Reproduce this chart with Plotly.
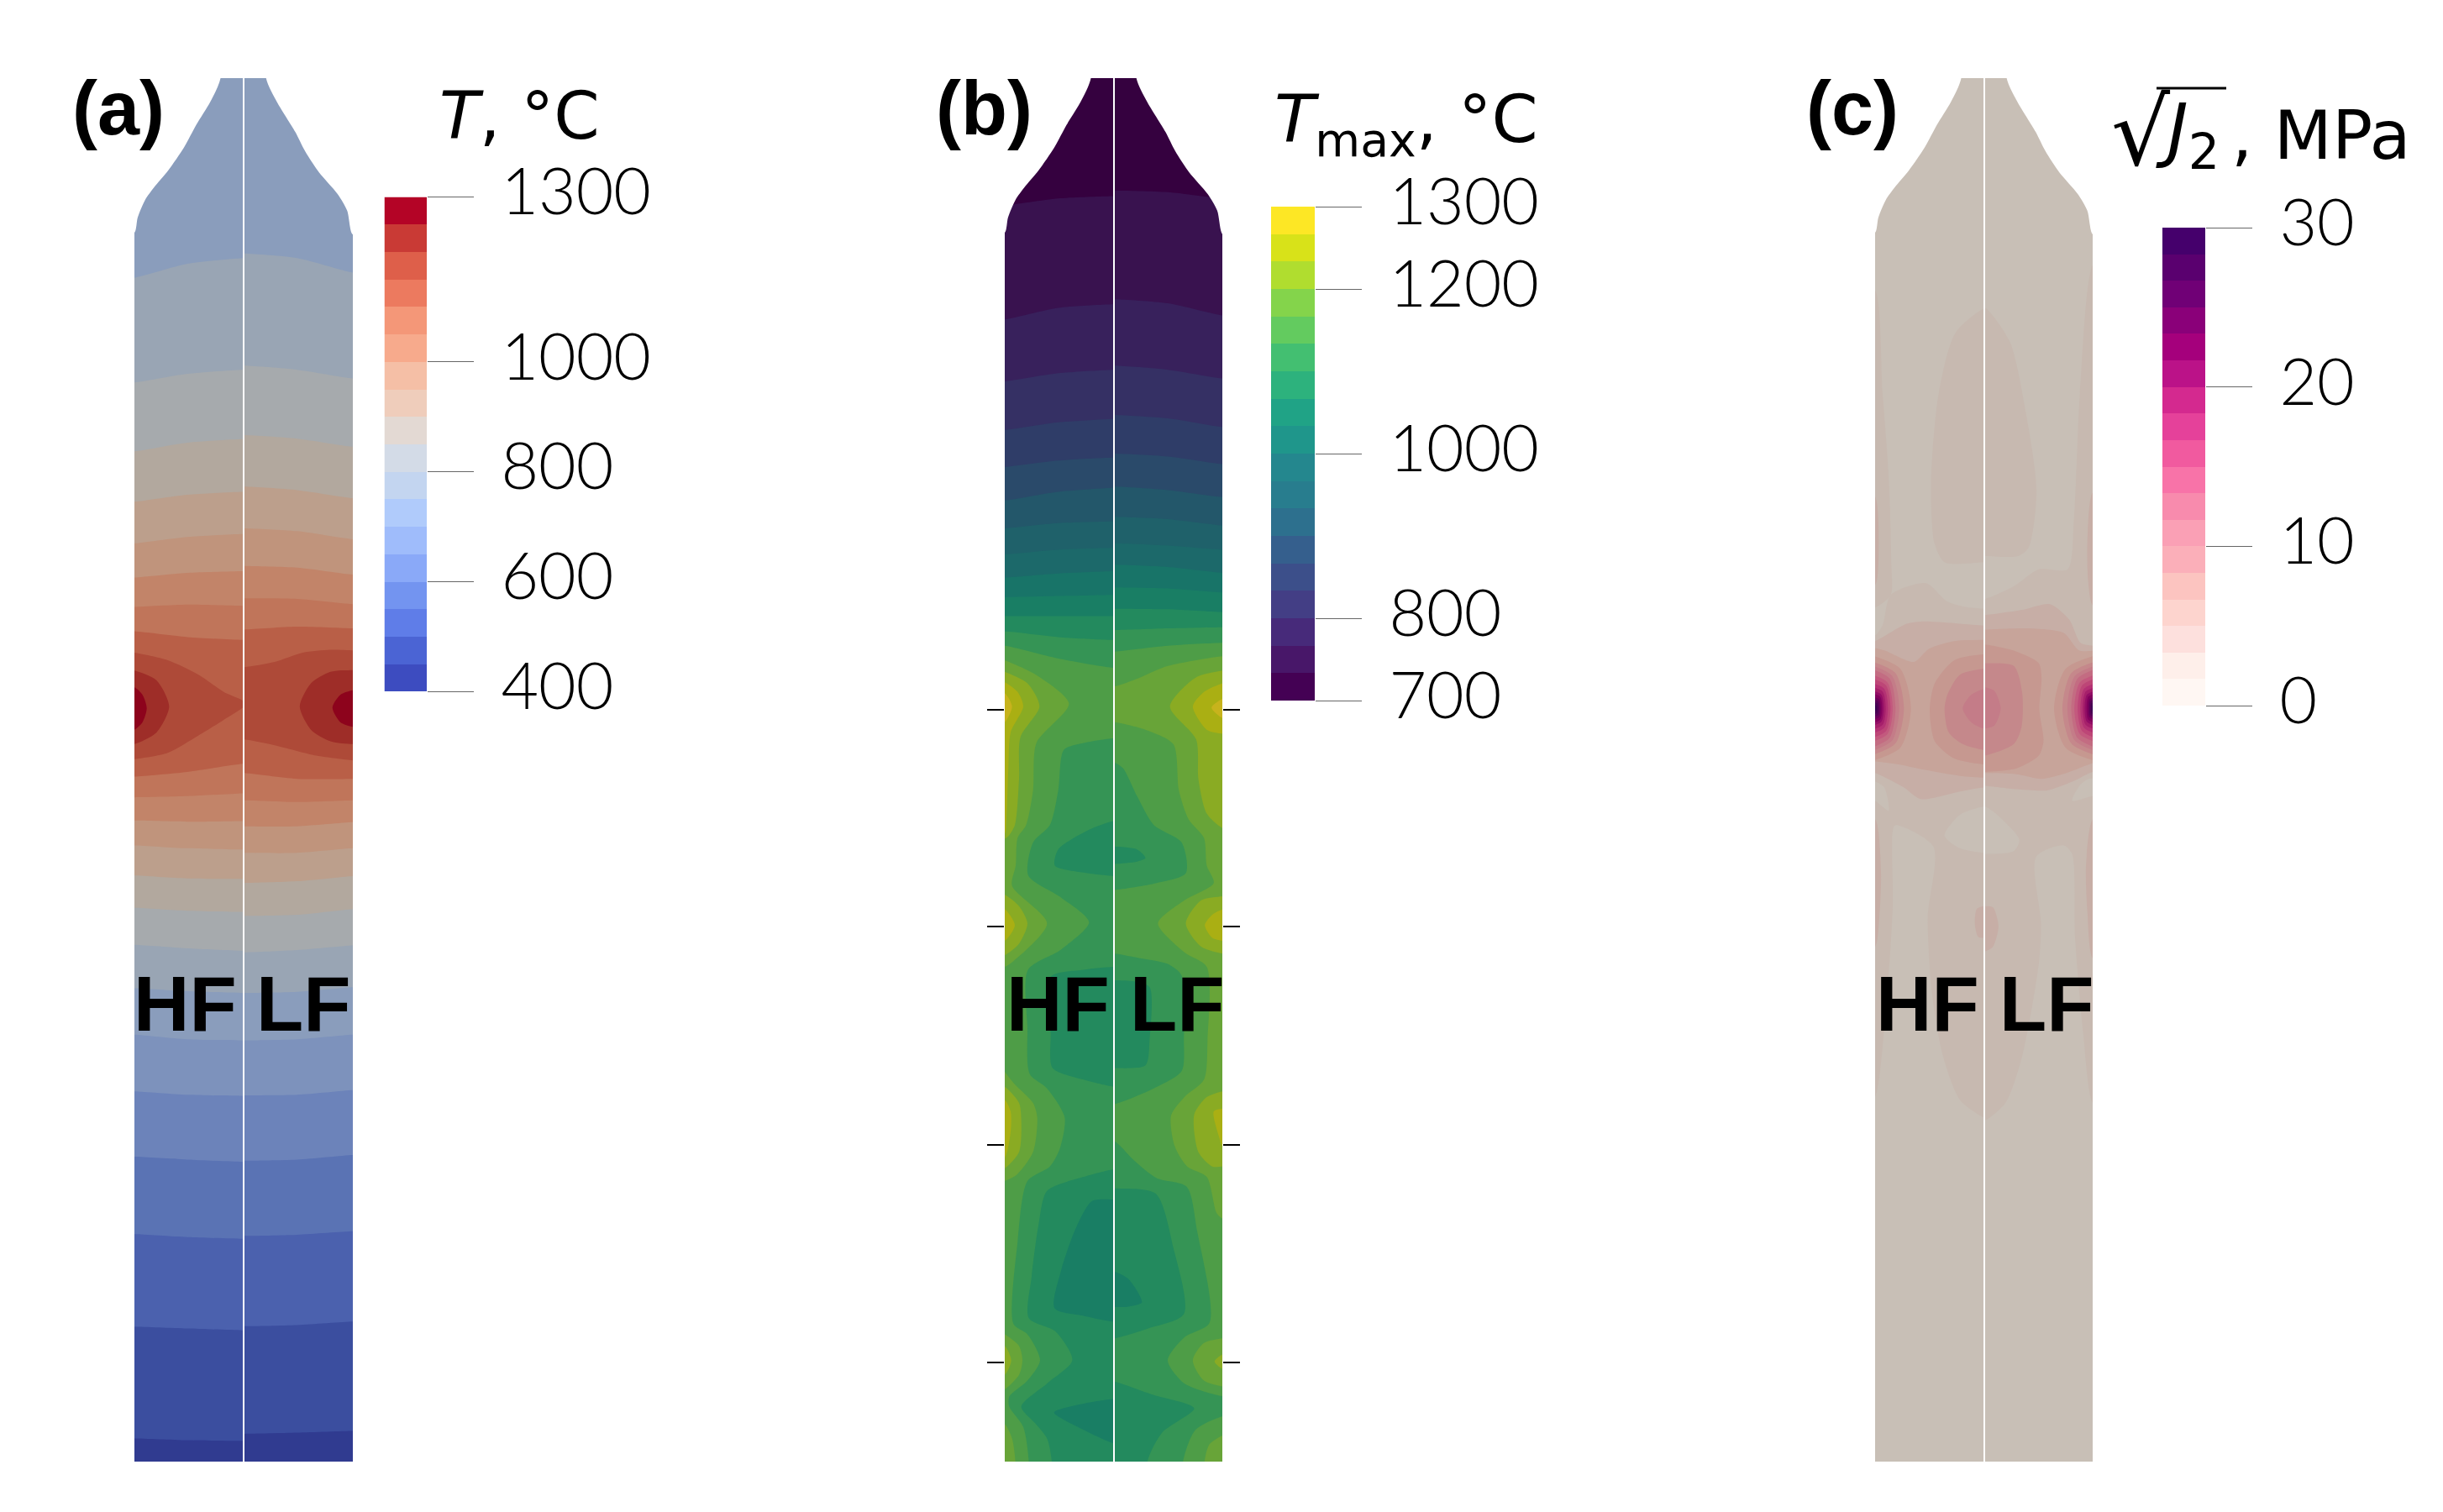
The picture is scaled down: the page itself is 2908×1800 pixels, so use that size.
import plotly.graph_objects as go

WIDTH = 2908
HEIGHT = 1800

# colour bars, low to high
T_BAR = ["#3d4cc0", "#4b64d4", "#5f7de8", "#7394f0", "#8aa9f8", "#9fbcfb", "#b0cbfb", "#c3d5f0", "#d3dbe7",
         "#e3d9d3", "#efcdbb", "#f5bfa6", "#f7aa8c", "#f49778", "#ec7a5f", "#de5f4a", "#c93a35", "#b40426"]
TMAX_BAR = ["#440154", "#481769", "#472a7a", "#433e85", "#3c4f8a", "#355f8d", "#2d708e", "#287d8e", "#24878e",
            "#1f968b", "#20a386", "#2db27d", "#43bf71", "#63cb5f", "#84d44b", "#b0dd2f", "#d8e219", "#fde725"]
J2_BAR = ["#fff7f3", "#feefea", "#fde0dd", "#fdd4ce", "#fcc4c0", "#fbafb9", "#faa0b5", "#f88bad", "#f873a8",
          "#f15a9f", "#e5419a", "#d4298f", "#bb1288", "#a5007c", "#8a0079", "#700076", "#5a006f", "#45006c"]

T_RANGE = (400, 1300)
TMAX_RANGE = (700, 1300)
J2_RANGE = (0, 30)
T_TICKS = [400, 600, 800, 1000, 1300]
TMAX_TICKS = [700, 800, 1000, 1200, 1300]
J2_TICKS = [0, 10, 20, 30]

# outline of the specimen head, fraction of half width / axial position
HEAD_LEFT_R = [-0.205, -0.30, -0.43, -0.54, -0.69, -0.82, -0.90, -0.97, -1.0]
HEAD_LEFT_Y = [-881, -840, -800, -762, -721, -692, -671, -640, -614]
HEAD_RIGHT_R = [0.20, 0.30, 0.47, 0.56, 0.69, 0.86, 0.95, 1.0]
HEAD_RIGHT_Y = [-881, -840, -788, -755, -718, -681, -652, -611]

# thermocouple positions in (b)
TC_POSITIONS = [210, 585, 963, 1339]

# (a) isotherms, axial position at edge / mid / centre
A_LEFT_X = [301, 490, 688]
A_RIGHT_X = [692, 880, 1080]
A_LEFT_UPPER = {7: [-536, -560, -570], 8: [-355, -370, -377], 9: [-236, -251, -257], 10: [-149, -161, -166],
                11: [-77, -88, -93], 12: [-18, -26, -29], 13: [33, 29, 31], 14: [75, 85, 90]}
A_LEFT_LOWER = {1: [1470, 1473, 1474], 2: [1277, 1280, 1283], 3: [1117, 1122, 1125], 4: [983, 988, 992],
                5: [870, 876, 878], 6: [772, 780, 782], 7: [692, 697, 700], 8: [617, 623, 627], 9: [553, 558, 560],
                10: [497, 502, 503], 11: [445, 450, 452], 12: [402, 404, 403], 13: [362, 360, 355],
                14: [326, 318, 304]}
A_RIGHT_UPPER = {7: [-578, -570, -545], 8: [-384, -377, -362], 9: [-264, -258, -244], 10: [-175, -169, -155],
                 11: [-103, -98, -84], 12: [-38, -35, -23], 13: [18, 19, 28], 14: [72, 67, 70]}
A_RIGHT_LOWER = {1: [1462, 1460, 1457], 2: [1276, 1274, 1268], 3: [1120, 1118, 1112], 4: [990, 988, 980],
                 5: [877, 876, 868], 6: [782, 780, 772], 7: [700, 698, 690], 8: [630, 626, 618], 9: [567, 565, 555],
                 10: [510, 507, 498], 11: [458, 458, 450], 12: [412, 412, 405], 13: [367, 370, 367],
                 14: [320, 330, 330]}
A_LEFT_PATCHES = [
    (15, [(260, 110), (301, 112), (420, 125), (530, 150), (620, 180), (700, 200), (620, 228), (530, 255), (420, 285), (301, 296), (260, 298)]),
    (16, [(260, 142), (301, 143), (380, 160), (425, 205), (380, 250), (301, 270), (260, 271)]),
    (17, [(260, 171), (301, 172), (330, 185), (345, 208), (330, 232), (301, 245), (260, 246)]),
]
A_RIGHT_PATCHES = [
    (15, [(650, 138), (692, 137), (800, 128), (900, 112), (1000, 107), (1080, 108), (1120, 108), (1120, 298), (1080, 298), (950, 290), (800, 272), (692, 262), (650, 262)]),
    (16, [(1120, 142), (1080, 142), (1000, 145), (930, 165), (890, 205), (930, 245), (1000, 265), (1080, 270), (1120, 270)]),
    (17, [(1120, 177), (1080, 177), (1035, 185), (1007, 207), (1035, 232), (1080, 240), (1120, 240)]),
]

# (b) isotherms
B_LEFT_X = [319, 510, 706]
B_RIGHT_X = [710, 900, 1096]
B_LEFT_UPPER = {1: [-661, -673, -677], 2: [-464, -484, -490], 3: [-357, -371, -377], 4: [-273, -286, -292],
                5: [-209, -220, -225], 6: [-151, -166, -173], 7: [-103, -112, -115], 8: [-58, -66, -69],
                9: [-18, -25, -29], 10: [16, 14, 12], 11: [49, 49, 49], 12: [75, 85, 90], 13: [100, 122, 138]}
B_RIGHT_UPPER = {1: [-687, -684, -673], 2: [-499, -492, -471], 3: [-384, -377, -362], 4: [-299, -293, -278],
                 5: [-232, -227, -214], 6: [-175, -169, -157], 7: [-123, -119, -108], 8: [-77, -73, -66],
                 9: [-40, -36, -26], 10: [-1, 1, 8], 11: [36, 37, 42], 12: [73, 70, 68], 13: [110, 100, 95]}
B_LEFT_PATCHES = [
    (12, [(740, 260), (706, 260), (600, 268), (530, 280), (510, 350), (480, 410), (420, 440), (403, 497), (520, 535), (620, 578), (520, 625), (402, 660), (400, 760), (408, 840), (470, 865), (533, 915), (515, 970), (480, 1000), (400, 1025), (365, 1130), (350, 1272), (400, 1290), (445, 1335), (400, 1370), (335, 1398), (335, 1415), (385, 1450), (405, 1510), (405, 1600), (740, 1600)]),
    (11, [(740, 403), (706, 403), (620, 418), (510, 452), (498, 480), (600, 492), (706, 498), (740, 498)]),
    (11, [(740, 655), (706, 655), (600, 660), (483, 672), (483, 770), (490, 830), (600, 850), (706, 862), (740, 862)]),
    (11, [(740, 1005), (706, 1005), (600, 1018), (470, 1042), (440, 1100), (415, 1190), (405, 1262), (500, 1285), (560, 1335), (470, 1375), (378, 1415), (430, 1445), (470, 1470), (487, 1510), (487, 1600), (740, 1600)]),
    (10, [(740, 1057), (706, 1057), (630, 1060), (570, 1110), (520, 1180), (497, 1245), (600, 1258), (706, 1268), (740, 1268)]),
    (10, [(740, 1402), (706, 1402), (600, 1410), (495, 1425), (600, 1455), (706, 1478), (740, 1478)]),
    (14, [(290, 120), (319, 125), (430, 150), (548, 200), (432, 268), (420, 350), (395, 410), (365, 432), (358, 480), (345, 515), (470, 580), (350, 645), (319, 655), (290, 660)]),
    (14, [(290, 815), (325, 840), (355, 858), (420, 890), (435, 915), (420, 975), (360, 1015), (319, 1025), (290, 1030)]),
    (14, [(290, 1285), (319, 1290), (370, 1310), (382, 1335), (370, 1360), (319, 1385), (290, 1390)]),
    (14, [(290, 1440), (319, 1445), (345, 1470), (357, 1510), (357, 1600), (290, 1600)]),
    (15, [(290, 140), (319, 145), (400, 165), (443, 205), (375, 258), (370, 330), (355, 410), (330, 430), (290, 440)]),
    (15, [(290, 525), (319, 530), (370, 550), (400, 580), (370, 615), (319, 635), (290, 640)]),
    (15, [(290, 860), (319, 862), (370, 890), (378, 920), (370, 975), (319, 1003), (290, 1006)]),
    (15, [(290, 1308), (319, 1310), (342, 1335), (319, 1360), (290, 1362)]),
    (16, [(290, 160), (319, 163), (365, 180), (385, 205), (340, 250), (332, 310), (325, 400), (319, 425), (290, 430)]),
    (16, [(290, 552), (319, 555), (355, 583), (319, 610), (290, 612)]),
    (16, [(290, 883), (319, 885), (340, 905), (340, 940), (319, 985), (290, 990)]),
    (17, [(290, 180), (319, 182), (345, 205), (319, 232), (290, 234)]),
]
B_RIGHT_PATCHES = [
    (12, [(680, 302), (710, 302), (740, 312), (790, 360), (850, 410), (950, 440), (965, 493), (860, 510), (710, 522), (680, 522)]),
    (11, [(680, 447), (710, 447), (790, 452), (820, 467), (790, 473), (710, 477), (680, 477)]),
    (12, [(680, 632), (710, 632), (800, 640), (900, 650), (950, 670), (958, 780), (950, 835), (850, 865), (710, 892), (680, 892)]),
    (11, [(680, 678), (710, 678), (780, 680), (835, 690), (835, 780), (820, 825), (710, 830), (680, 830)]),
    (12, [(680, 957), (710, 957), (780, 990), (860, 1020), (968, 1035), (1005, 1110), (1050, 1270), (960, 1295), (900, 1335), (960, 1375), (1096, 1397), (1125, 1397), (1125, 1432), (1096, 1432), (1000, 1455), (955, 1510), (955, 1600), (680, 1600)]),
    (11, [(680, 1038), (710, 1038), (857, 1047), (920, 1140), (958, 1255), (830, 1280), (710, 1297), (680, 1297)]),
    (11, [(680, 1372), (710, 1372), (850, 1395), (995, 1418), (880, 1460), (827, 1510), (827, 1600), (680, 1600)]),
    (10, [(680, 1182), (710, 1182), (760, 1195), (807, 1235), (760, 1242), (710, 1243), (680, 1243)]),
    (14, [(680, 170), (710, 170), (800, 155), (900, 135), (1096, 118), (1125, 118), (1125, 1090), (1096, 1090), (1075, 1080), (1040, 1018), (970, 1000), (925, 965), (912, 912), (960, 880), (1030, 850), (1043, 780), (1040, 655), (960, 630), (865, 580), (960, 540), (1065, 510), (1040, 480), (1030, 432), (975, 400), (940, 350), (920, 270), (820, 245), (710, 232), (680, 232)]),
    (14, [(1125, 1295), (1096, 1297), (1030, 1305), (990, 1335), (1030, 1370), (1096, 1380), (1125, 1382)]),
    (14, [(1125, 1460), (1096, 1465), (1050, 1480), (1032, 1510), (1032, 1600), (1125, 1600)]),
    (15, [(1125, 140), (1096, 143), (1000, 155), (908, 205), (1002, 262), (1010, 330), (1040, 390), (1096, 415), (1125, 418)]),
    (15, [(1125, 530), (1096, 533), (1020, 540), (965, 580), (1020, 620), (1096, 632), (1125, 634)]),
    (15, [(1125, 868), (1096, 870), (1040, 880), (995, 910), (1010, 975), (1060, 1000), (1096, 1000), (1125, 1000)]),
    (15, [(1125, 1323), (1096, 1325), (1068, 1337), (1096, 1350), (1125, 1352)]),
    (16, [(1125, 163), (1096, 165), (1030, 180), (990, 205), (1040, 245), (1096, 252), (1125, 254)]),
    (16, [(1125, 554), (1096, 556), (1060, 565), (1033, 583), (1060, 605), (1096, 610), (1125, 612)]),
    (16, [(1125, 898), (1096, 900), (1065, 905), (1085, 950), (1096, 965), (1125, 970)]),
    (17, [(1125, 190), (1096, 192), (1057, 207), (1096, 225), (1125, 227)]),
]

# (c) stress contours
C_LEFT_PATCHES = [
    (1, [(530, -482), (484, -482), (383, -440), (324, -336), (297, -188), (309, -77), (346, -44), (484, -44), (530, -44)]),
    (1, [(60, -520), (97, -514), (124, -336), (146, -188), (155, -40), (153, 12), (97, 34), (60, 36)]),
    (1, [(60, 82), (97, 82), (124, 64), (153, 12), (279, -8), (353, 23), (420, 33), (484, 36), (530, 36), (530, 920), (484, 915), (400, 885), (340, 810), (300, 700), (285, 570), (305, 447), (170, 410), (160, 420), (160, 550), (140, 700), (97, 880), (60, 900)]),
    (0, [(530, 378), (484, 378), (400, 392), (345, 428), (400, 450), (484, 458), (530, 458)]),
    (0, [(60, 335), (97, 335), (130, 345), (145, 385), (97, 368), (60, 360)]),
    (2, [(60, -170), (97, -158), (110, -80), (97, -5), (60, -5)]),
    (2, [(60, 400), (97, 400), (118, 490), (112, 570), (97, 620), (60, 625)]),
    (2, [(530, 555), (484, 550), (460, 555), (453, 580), (465, 603), (484, 605), (530, 605)]),
    (2, [(60, 95), (97, 92), (210, 62), (270, 58), (484, 65), (530, 65), (530, 345), (484, 345), (400, 352), (260, 365), (200, 345), (97, 320), (60, 318)]),
    (3, [(60, 100), (130, 108), (235, 128), (290, 105), (380, 92), (484, 90), (530, 90), (530, 328), (484, 328), (400, 325), (280, 315), (180, 305), (97, 300), (60, 300)]),
    (4, [(530, 115), (484, 115), (380, 125), (310, 165), (292, 210), (310, 265), (380, 295), (484, 305), (530, 305)]),
    (5, [(530, 140), (484, 140), (400, 150), (355, 185), (345, 210), (360, 250), (410, 270), (484, 280), (530, 280)]),
    (6, [(530, 175), (484, 175), (440, 185), (410, 208), (440, 232), (484, 243), (530, 243)]),
]
C_RIGHT_PATCHES = [
    (1, [(460, -484), (487, -484), (576, -425), (635, -299), (672, -166), (643, -69), (606, -55), (487, -55), (460, -55)]),
    (1, [(460, 19), (487, 19), (591, -3), (680, -32), (784, -32), (806, -114), (828, -336), (874, -558), (910, -570), (910, 900), (874, 890), (840, 770), (810, 600), (800, 460), (770, 445), (670, 465), (688, 580), (680, 650), (620, 810), (560, 890), (487, 920), (460, 920)]),
    (0, [(460, 378), (487, 378), (530, 392), (610, 435), (590, 455), (487, 460), (460, 460)]),
    (0, [(910, 330), (860, 330), (830, 340), (800, 368), (874, 360), (910, 360)]),
    (2, [(910, -170), (874, -165), (855, -80), (858, -10), (874, 30), (910, 32)]),
    (2, [(910, 395), (874, 400), (850, 480), (855, 560), (874, 640), (910, 645)]),
    (2, [(460, 552), (487, 550), (515, 552), (535, 585), (515, 620), (487, 628), (460, 628)]),
    (2, [(460, 47), (487, 47), (620, 38), (720, 28), (790, 55), (830, 95), (874, 100), (910, 100), (910, 318), (874, 318), (800, 335), (710, 350), (600, 348), (487, 342), (460, 342)]),
    (3, [(460, 72), (487, 72), (640, 70), (770, 78), (825, 108), (910, 112), (910, 300), (874, 303), (780, 320), (690, 330), (600, 322), (487, 320), (460, 320)]),
    (4, [(460, 98), (487, 98), (600, 110), (680, 130), (690, 155), (682, 210), (697, 265), (680, 290), (600, 312), (487, 318), (460, 318)]),
    (5, [(460, 130), (487, 130), (590, 135), (620, 180), (618, 240), (590, 270), (487, 290), (460, 290)]),
    (6, [(460, 172), (487, 172), (520, 178), (543, 208), (520, 238), (487, 243), (460, 243)]),
]
# stress concentration at the surface: band, how far it reaches in, half height
C_SPOT_BANDS = [4, 5, 6, 7, 8, 9, 10, 11, 12, 13, 14, 15, 16, 17]
C_SPOT_LEFT_TIP = [225, 200, 183, 170, 160, 152, 143, 135, 128, 122, 117, 112, 107, 102]
C_SPOT_RIGHT_TIP = [735, 765, 783, 797, 808, 820, 830, 838, 845, 852, 858, 863, 867, 871]
C_SPOT_HALF = [95, 85, 78, 72, 62, 55, 47, 40, 33, 28, 22, 17, 12, 6]
C_SPOT_Y = 208

SURFACE_DIM = (0.785, 0.775, 0.75)
NUM_FONT = "Lato"


def px_x(v):
    return v / WIDTH


def px_y(v):
    return 1 - v / HEIGHT


def dim(colour):
    rgb = [int(colour[i:i + 2], 16) for i in (1, 3, 5)]
    return "rgb({},{},{})".format(*[round(c * f) for c, f in zip(rgb, SURFACE_DIM)])


fig = go.Figure()
layout_axes = {}
axis_no = 0


def new_axes(x_dom, y_dom, x_range, y_range, y_opts=None):
    global axis_no
    axis_no += 1
    sfx = "" if axis_no == 1 else str(axis_no)
    y_axis = dict(domain=[px_y(y_dom[1]), px_y(y_dom[0])], range=y_range, anchor="x" + sfx, visible=False,
                  automargin=False)
    if y_opts:
        y_axis.update(y_opts)
        y_axis["visible"] = True
    layout_axes["xaxis" + sfx] = dict(domain=[px_x(x_dom[0]), px_x(x_dom[1])], range=x_range,
                                      anchor="y" + sfx, visible=False, automargin=False)
    layout_axes["yaxis" + sfx] = y_axis
    return "x" + sfx, "y" + sfx


def fill_region(xa, ya, colour, xs, ys):
    fig.add_trace(go.Scatter(x=xs, y=ys, xaxis=xa, yaxis=ya, mode="lines", fill="toself", fillcolor=colour,
                             line=dict(width=0, shape="spline", smoothing=0.75), hoverinfo="skip", showlegend=False))


def draw_half(xa, ya, bar, off_l, off_r, line_x, upper, lower, patches, bottom=1600):
    surface = [dim(c) for c in bar]
    fill_region(xa, ya, surface[0], [off_l, off_r, off_r, off_l], [-1000, -1000, 1600, 1600])
    for k in sorted(set(upper) | set(lower)):
        top = upper.get(k, [-1000] * 3)
        low = lower.get(k, [bottom] * 3)
        xs = [off_l] + line_x + [off_r, off_r] + line_x[::-1] + [off_l]
        ys = [top[0]] + top + [top[-1], low[-1]] + low[::-1] + [low[0]]
        fill_region(xa, ya, surface[k], xs, ys)
    for band, pts in patches:
        fill_region(xa, ya, surface[band], [p[0] for p in pts], [p[1] for p in pts])


def mask_head(xa, ya, centre, r_vals, y_vals, off):
    xs = [off, centre + r_vals[0] * 387] + [centre + r * 387 for r in r_vals] + [off]
    ys = [-1000, -1000] + y_vals + [y_vals[-1]]
    fill_region(xa, ya, "white", xs, ys)


def draw_bar(x_dom, y_dom, colours, rng, ticks):
    tick_style = dict(side="right", ticks="outside", ticklen=55, tickwidth=1, tickcolor="#666666",
                      tickvals=ticks, ticktext=[str(t) for t in ticks], showgrid=False, zeroline=False,
                      showline=False, tickfont=dict(family=NUM_FONT, size=77, color="black", weight=300),
                      ticklabelstandoff=17, ticklabelshift=-6)
    xa, ya = new_axes(x_dom, y_dom, [0, 1], list(rng), tick_style)
    step = (rng[1] - rng[0]) / len(colours)
    edges = [rng[0] + i * step for i in range(len(colours) + 1)]
    scale = [[i / (len(colours) - 1), c] for i, c in enumerate(colours)]
    fig.add_trace(go.Heatmap(x=[0, 1], y=edges, z=[[i] for i in range(len(colours))], zmin=0, zmax=len(colours) - 1,
                             colorscale=scale, showscale=False, hoverinfo="skip", xaxis=xa, yaxis=ya))


Y_RANGE = [1510, -881]
Y_DOM = (93, 1740)
side_ticks = dict(ticks="outside", ticklen=20, tickwidth=2, tickcolor="black", tickvals=TC_POSITIONS,
                  showticklabels=False, showgrid=False, zeroline=False, showline=False)

# (a)
xa, ya = new_axes((160, 289), Y_DOM, [301, 688], Y_RANGE)
draw_half(xa, ya, T_BAR, 260, 730, A_LEFT_X, A_LEFT_UPPER, A_LEFT_LOWER, A_LEFT_PATCHES)
mask_head(xa, ya, 688, HEAD_LEFT_R, HEAD_LEFT_Y, 260)
xa, ya = new_axes((291, 420), Y_DOM, [692, 1080], Y_RANGE)
draw_half(xa, ya, T_BAR, 650, 1120, A_RIGHT_X, A_RIGHT_UPPER, A_RIGHT_LOWER, A_RIGHT_PATCHES)
mask_head(xa, ya, 692, HEAD_RIGHT_R, HEAD_RIGHT_Y, 1120)

# (b)
xa, ya = new_axes((1196, 1325), Y_DOM, [319, 706], Y_RANGE, dict(side_ticks, side="left"))
draw_half(xa, ya, TMAX_BAR, 280, 745, B_LEFT_X, B_LEFT_UPPER, {}, B_LEFT_PATCHES)
mask_head(xa, ya, 706, HEAD_LEFT_R, HEAD_LEFT_Y, 280)
xa, ya = new_axes((1327, 1455), Y_DOM, [710, 1096], Y_RANGE, dict(side_ticks, side="right"))
draw_half(xa, ya, TMAX_BAR, 670, 1135, B_RIGHT_X, B_RIGHT_UPPER, {}, B_RIGHT_PATCHES)
mask_head(xa, ya, 710, HEAD_RIGHT_R, HEAD_RIGHT_Y, 1135)

# (c)
xa, ya = new_axes((2232, 2361), Y_DOM, [97, 484], Y_RANGE)
left_spots = [(b, [(60, C_SPOT_Y - h), (97 + 0.7 * (t - 97), C_SPOT_Y - 0.72 * h), (t, C_SPOT_Y),
                   (97 + 0.7 * (t - 97), C_SPOT_Y + 0.72 * h), (60, C_SPOT_Y + h)])
              for b, t, h in zip(C_SPOT_BANDS, C_SPOT_LEFT_TIP, C_SPOT_HALF)]
draw_half(xa, ya, J2_BAR, 60, 530, [97, 484], {}, {}, C_LEFT_PATCHES + left_spots)
mask_head(xa, ya, 484, HEAD_LEFT_R, HEAD_LEFT_Y, 60)
xa, ya = new_axes((2363, 2491), Y_DOM, [487, 874], Y_RANGE)
right_spots = [(b, [(910, C_SPOT_Y - h), (874 - 0.7 * (874 - t), C_SPOT_Y - 0.72 * h), (t, C_SPOT_Y),
                    (874 - 0.7 * (874 - t), C_SPOT_Y + 0.72 * h), (910, C_SPOT_Y + h)])
               for b, t, h in zip(C_SPOT_BANDS, C_SPOT_RIGHT_TIP, C_SPOT_HALF)]
draw_half(xa, ya, J2_BAR, 460, 910, [487, 874], {}, {}, C_RIGHT_PATCHES + right_spots)
mask_head(xa, ya, 487, HEAD_RIGHT_R, HEAD_RIGHT_Y, 910)

# colour bars
draw_bar((457.5, 508), (234.5, 823), T_BAR, T_RANGE, T_TICKS)
draw_bar((1513, 1565), (246, 834), TMAX_BAR, TMAX_RANGE, TMAX_TICKS)
draw_bar((2574, 2625), (271, 840), J2_BAR, J2_RANGE, J2_TICKS)


def note(text, x, y, size, family="DejaVu Sans", bold=False, anchor="left"):
    fig.add_annotation(text=text, x=px_x(x), y=px_y(y), xref="paper", yref="paper", xanchor=anchor, yanchor="middle",
                       showarrow=False, borderpad=0,
                       font=dict(family=family, size=size, color="black", weight="bold" if bold else "normal"))


for label, x in zip(["(a)", "(b)", "(c)"], [85, 1113, 2149]):
    note(label, x, 129, 90, "Liberation Sans", True)

for label, x in zip(["HF", "LF", "HF", "LF", "HF", "LF"], [158, 304, 1197, 1344, 2232, 2379]):
    note(label, x, 1195, 92, "Liberation Sans", True)

note("<i>T</i>, °C", 522, 138, 78)
note("<i>T</i><sub>max</sub>, °C", 1516, 148, 79)
note("√", 2512, 158, 110)
note("<i>J</i><sub>2</sub>", 2565, 160, 84)
note(", MPa", 2655, 162, 80)

fig.update_layout(
    template="none",
    width=WIDTH,
    height=HEIGHT,
    margin=dict(l=0, r=0, t=0, b=0),
    paper_bgcolor="white",
    plot_bgcolor="rgba(0,0,0,0)",
    showlegend=False,
    shapes=[dict(type="line", xref="paper", yref="paper", x0=px_x(2567), x1=px_x(2650), y0=px_y(105), y1=px_y(105),
                 line=dict(color="black", width=3))],
    **layout_axes,
)

fig.write_html("out.html", config={"displayModeBar": False}, post_script="document.body.style.margin='0';")
